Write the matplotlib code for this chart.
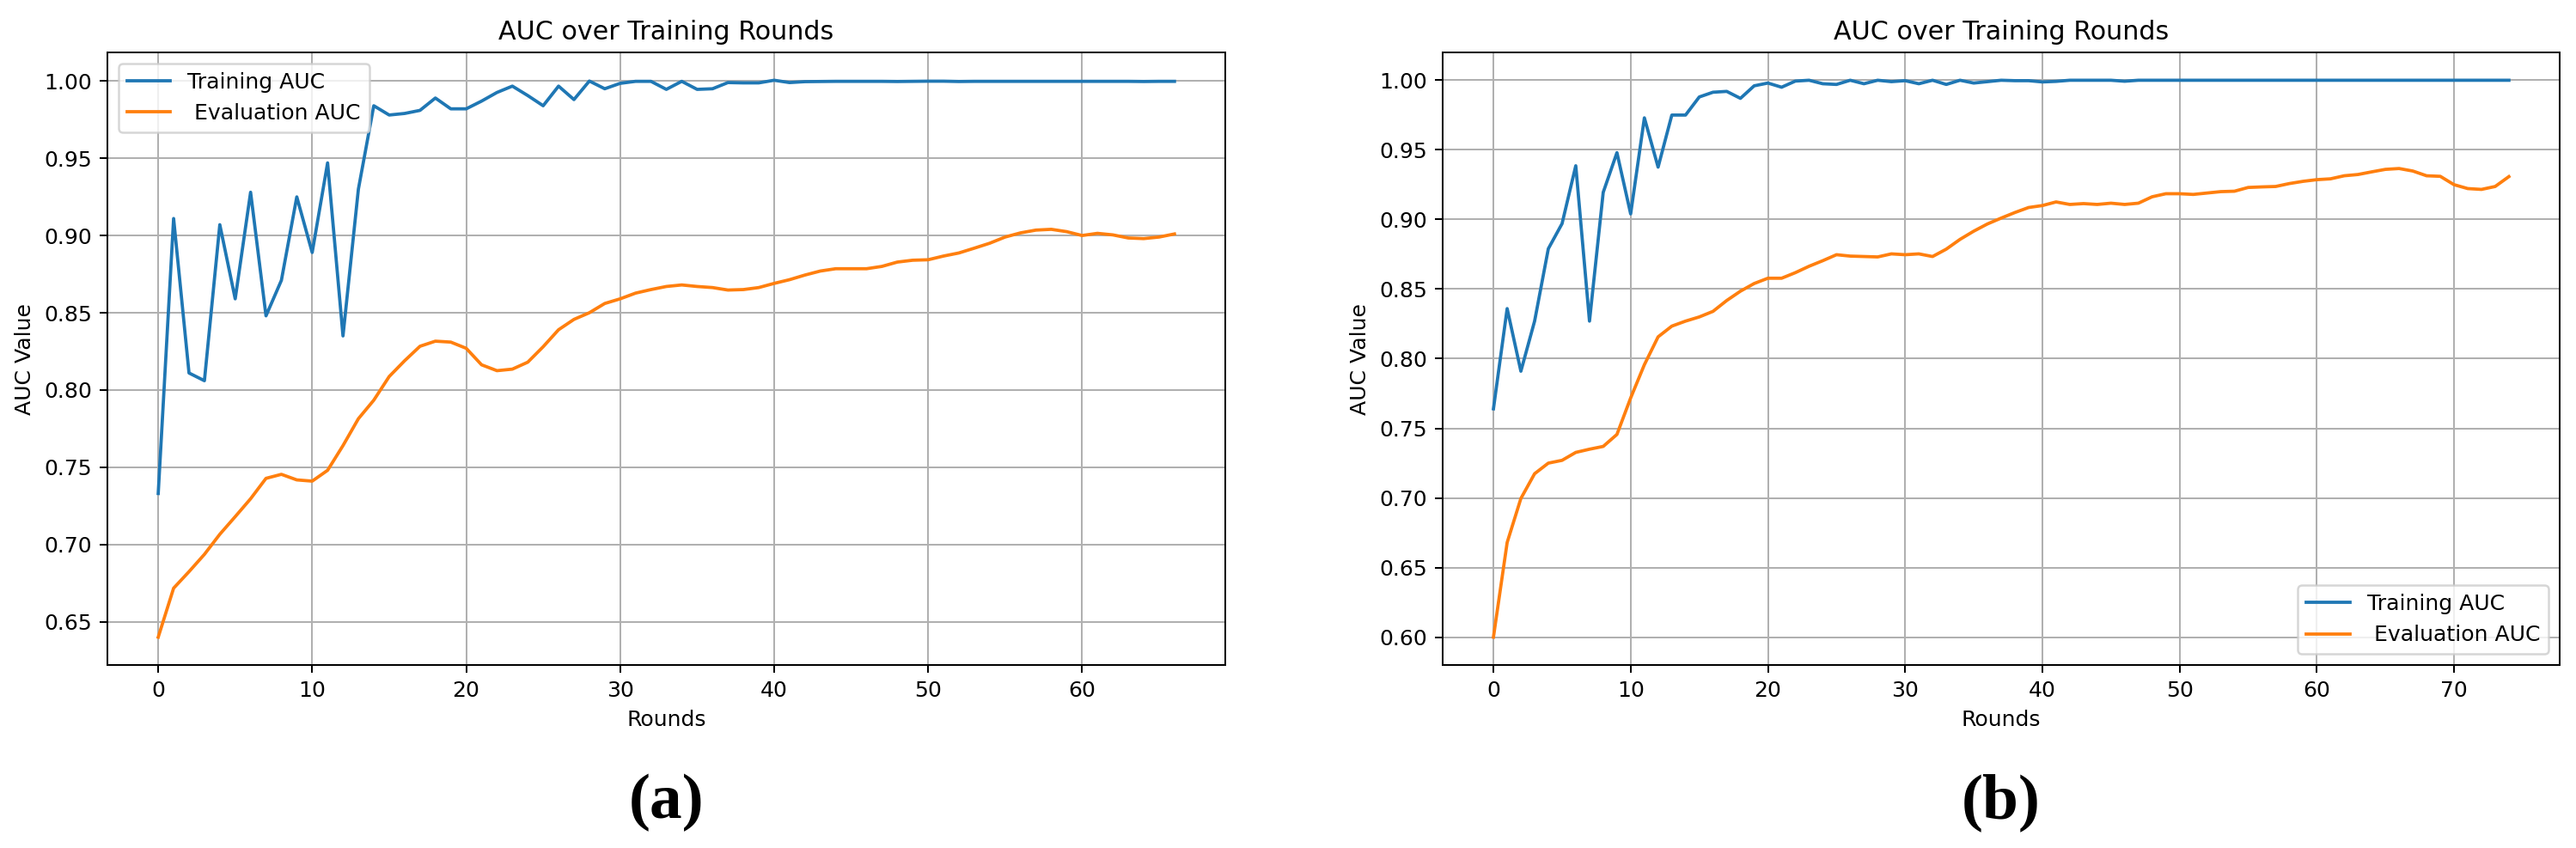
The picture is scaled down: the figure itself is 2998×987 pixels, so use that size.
import matplotlib
matplotlib.use("Agg")
import matplotlib.pyplot as plt

# ---------------- data ----------------
rounds_a = list(range(67))
train_auc_a = [0.733, 0.911, 0.811, 0.806, 0.907, 0.859, 0.928, 0.848, 0.871, 0.925,
               0.889, 0.947, 0.835, 0.930, 0.984, 0.978, 0.979, 0.981, 0.989, 0.982,
               0.982, 0.987, 0.9926, 0.9967, 0.9906, 0.984, 0.9967, 0.988, 1.000, 0.995,
               0.9985, 0.9998, 0.9998, 0.9946, 0.9998, 0.9946, 0.995, 0.999, 0.9988, 0.9988,
               1.0005, 0.999, 0.9996, 0.9997, 0.9998, 0.9998, 0.9998, 0.9998, 0.9997, 0.9998,
               0.9999, 0.9999, 0.9997, 0.9998, 0.9998, 0.9998, 0.9998, 0.9998, 0.9998, 0.9998,
               0.9998, 0.9998, 0.9998, 0.9998, 0.9997, 0.9998, 0.9998]
eval_auc_a = [0.640, 0.6717, 0.6824, 0.6936, 0.7066, 0.718, 0.7296, 0.7428, 0.7454, 0.7418,
              0.741, 0.748, 0.764, 0.7814, 0.7934, 0.8087, 0.8189, 0.8283, 0.8316, 0.831,
              0.827, 0.8163, 0.8125, 0.8135, 0.818, 0.828, 0.839, 0.8457, 0.850, 0.856,
              0.859, 0.8627, 0.865, 0.867, 0.868, 0.867, 0.8663, 0.8647, 0.865, 0.8663,
              0.869, 0.8714, 0.8744, 0.877, 0.8785, 0.8785, 0.8785, 0.880, 0.8828, 0.884,
              0.8843, 0.8867, 0.8887, 0.8918, 0.895, 0.899, 0.9017, 0.9035, 0.904, 0.9025,
              0.900, 0.9014, 0.9004, 0.8984, 0.898, 0.899, 0.901]

rounds_b = list(range(75))
train_auc_b = [0.764, 0.836, 0.791, 0.827, 0.879, 0.897, 0.9386, 0.827, 0.9195, 0.948,
               0.904, 0.973, 0.9376, 0.975, 0.975, 0.988, 0.9914, 0.992, 0.987, 0.996,
               0.998, 0.995, 0.9994, 1.000, 0.9975, 0.997, 1.000, 0.9975, 1.000, 0.999,
               0.9997, 0.9975, 1.000, 0.997, 1.000, 0.998, 0.999, 1.000, 0.9997, 0.9997,
               0.9988, 0.9992, 1.000, 1.000, 1.000, 1.000, 0.9993, 1.000, 1.000, 1.000,
               1.000, 1.000, 1.000, 1.000, 1.000, 1.000, 1.000, 1.000, 1.000, 1.000,
               1.000, 1.000, 1.000, 1.000, 1.000, 1.000, 1.000, 1.000, 1.000, 1.000,
               1.000, 1.000, 1.000, 1.000, 1.000]
eval_auc_b = [0.600, 0.668, 0.6996, 0.7174, 0.725, 0.727, 0.7327, 0.735, 0.737, 0.7456,
              0.7718, 0.7957, 0.8157, 0.8234, 0.827, 0.830, 0.834, 0.8418, 0.8485, 0.854,
              0.8578, 0.8578, 0.8618, 0.8664, 0.8704, 0.8747, 0.8737, 0.8734, 0.8731, 0.8753,
              0.8747, 0.8753, 0.8734, 0.8787, 0.8857, 0.8916, 0.8968, 0.901, 0.905, 0.9086,
              0.910, 0.9126, 0.9108, 0.9114, 0.9108, 0.9117, 0.9108, 0.9117, 0.9163, 0.9185,
              0.9185, 0.918, 0.919, 0.920, 0.9203, 0.923, 0.9234, 0.9237, 0.9258, 0.9274,
              0.9286, 0.9292, 0.9314, 0.9323, 0.9342, 0.936, 0.9366, 0.9348, 0.9314, 0.931,
              0.925, 0.9222, 0.9216, 0.9237, 0.9308]

title_text = "AUC over Training Rounds"
xlabel_text = "Rounds"
ylabel_text = "AUC Value"
train_label = "Training AUC"
eval_label = " Evaluation AUC"
panel_labels = ["(a)", "(b)"]

# ---------------- figure ----------------
DPI = 181
fig = plt.figure(figsize=(2998 / DPI, 987 / DPI), dpi=DPI)

ax_a = fig.add_axes([125 / 2998, 213 / 987, 1301 / 2998, 713 / 987])
ax_b = fig.add_axes([1679 / 2998, 213 / 987, 1300 / 2998, 713 / 987])

panels = [
    (ax_a, rounds_a, train_auc_a, eval_auc_a, "upper left"),
    (ax_b, rounds_b, train_auc_b, eval_auc_b, "lower right"),
]

for ax, r, tr, ev, loc in panels:
    ax.plot(r, tr, label=train_label)
    ax.plot(r, ev, label=eval_label)
    ax.set_title(title_text)
    ax.set_xlabel(xlabel_text)
    ax.set_ylabel(ylabel_text)
    ax.grid(True)
    ax.legend(loc=loc)

for ax, lab in zip([ax_a, ax_b], panel_labels):
    pos = ax.get_position()
    fig.text((pos.x0 + pos.x1) / 2, 0.054, lab, ha="center", va="center",
             fontsize=30, fontweight="bold", family="Liberation Serif")

fig.savefig("out.png", dpi=DPI)
